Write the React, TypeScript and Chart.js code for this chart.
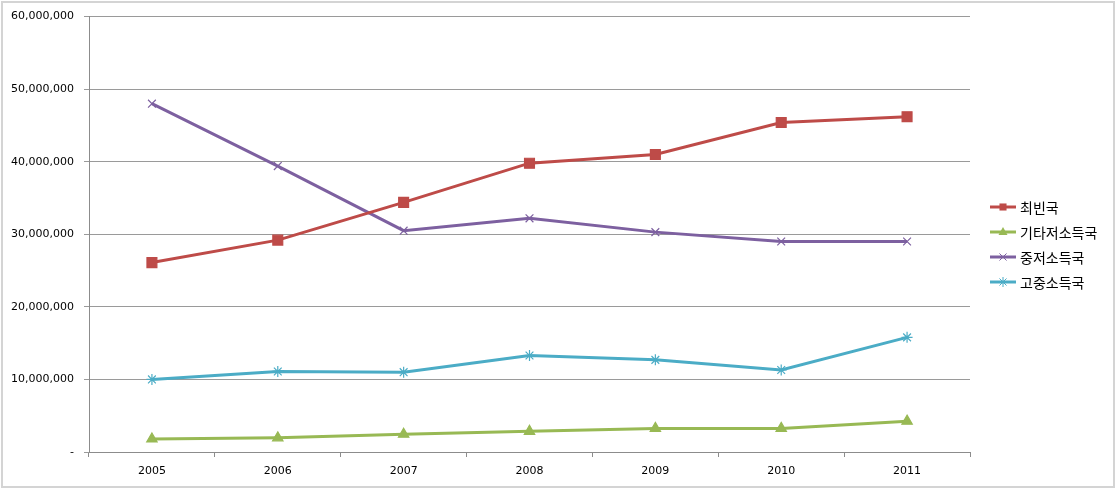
import React, { useEffect, useRef } from 'react';
import { Chart, registerables } from 'chart.js';

Chart.register(...registerables);

const categories = ['2005', '2006', '2007', '2008', '2009', '2010', '2011'];
const seriesLabels = ['최빈국', '기타저소득국', '중저소득국', '고중소득국'];
const leastDeveloped = [26100000, 29200000, 34400000, 39800000, 41000000, 45400000, 46200000];
const otherLowIncome = [1800000, 1950000, 2450000, 2850000, 3250000, 3250000, 4250000];
const lowerMiddleIncome = [48000000, 39400000, 30500000, 32200000, 30300000, 29000000, 29000000];
const upperMiddleIncome = [10000000, 11100000, 11000000, 13300000, 12700000, 11300000, 15800000];
const yMin = 0;
const yMax = 60000000;
const yStep = 10000000;

const colors = ['#BE4B48', '#98B954', '#7D60A0', '#4BACC6'];
const pointStyles = ['rect', 'triangle', 'crossRot', 'star'];
const pointRadii = [7, 6, 5.5, 5.5];

function drawMarker(ctx: CanvasRenderingContext2D, style: string, x: number, y: number, r: number, color: string) {
  ctx.save();
  ctx.fillStyle = color;
  ctx.strokeStyle = color;
  ctx.lineWidth = 1;
  ctx.beginPath();
  if (style === 'rect') {
    const s = r * Math.SQRT1_2;
    ctx.rect(x - s, y - s, 2 * s, 2 * s);
    ctx.fill();
  } else if (style === 'triangle') {
    ctx.moveTo(x, y - r);
    ctx.lineTo(x + r * 0.9, y + r * 0.6);
    ctx.lineTo(x - r * 0.9, y + r * 0.6);
    ctx.closePath();
    ctx.fill();
  } else if (style === 'crossRot') {
    const s = r * Math.SQRT1_2;
    ctx.moveTo(x - s, y - s);
    ctx.lineTo(x + s, y + s);
    ctx.moveTo(x + s, y - s);
    ctx.lineTo(x - s, y + s);
    ctx.stroke();
  } else {
    const s = r * Math.SQRT1_2;
    ctx.moveTo(x - s, y - s);
    ctx.lineTo(x + s, y + s);
    ctx.moveTo(x + s, y - s);
    ctx.lineTo(x - s, y + s);
    ctx.moveTo(x, y - r);
    ctx.lineTo(x, y + r);
    ctx.moveTo(x - r, y);
    ctx.lineTo(x + r, y);
    ctx.stroke();
  }
  ctx.restore();
}

const legendPlugin = {
  id: 'excelLegend',
  afterDraw(chart: any) {
    const ctx: CanvasRenderingContext2D = chart.ctx;
    const startY = 207;
    const gap = 25;
    chart.data.datasets.forEach((ds: any, i: number) => {
      const y = startY + i * gap;
      ctx.save();
      ctx.strokeStyle = ds.borderColor;
      ctx.lineWidth = 3;
      ctx.beginPath();
      ctx.moveTo(990, y);
      ctx.lineTo(1016, y);
      ctx.stroke();
      ctx.restore();
      drawMarker(ctx, pointStyles[i], 1003, y, 5, ds.borderColor);
      ctx.save();
      ctx.fillStyle = '#000';
      ctx.font = '14px "Noto Sans CJK KR", sans-serif';
      ctx.textBaseline = 'middle';
      ctx.textAlign = 'left';
      ctx.fillText(ds.label, 1020, y + 1);
      ctx.restore();
    });
  },
};

export default function App() {
  const canvasRef = useRef<HTMLCanvasElement | null>(null);

  useEffect(() => {
    if (!canvasRef.current) return;
    const seriesData = [leastDeveloped, otherLowIncome, lowerMiddleIncome, upperMiddleIncome];
    const chart = new Chart(canvasRef.current, {
      type: 'line',
      data: {
        labels: categories,
        datasets: seriesData.map((d, i) => ({
          label: seriesLabels[i],
          data: d,
          borderColor: colors[i],
          backgroundColor: colors[i],
          borderWidth: 3,
          pointStyle: pointStyles[i] as any,
          pointRadius: pointRadii[i],
          pointBorderWidth: 1.2,
          pointBorderColor: colors[i],
          pointBackgroundColor: colors[i],
          tension: 0,
          fill: false,
        })),
      },
      options: {
        animation: false,
        responsive: false,
        maintainAspectRatio: false,
        layout: { padding: { left: 0, top: 16, right: 146, bottom: 0 } },
        plugins: {
          legend: { display: false },
          tooltip: { enabled: false },
        },
        scales: {
          x: {
            type: 'category',
            offset: true,
            grid: {
              offset: true,
              drawOnChartArea: false,
              drawTicks: true,
              tickLength: 5,
              color: '#8c8c8c',
            },
            border: { color: '#8c8c8c', width: 1 },
            ticks: {
              color: '#000',
              font: { family: '"DejaVu Sans", sans-serif', size: 11 },
              padding: 8,
              maxRotation: 0,
            },
            afterFit(scale: any) {
              scale.height = 37;
            },
          },
          y: {
            min: yMin,
            max: yMax,
            grid: {
              color: '#9a9a9a',
              lineWidth: 1,
              drawTicks: true,
              tickLength: 5,
            },
            border: { color: '#8c8c8c', width: 1 },
            ticks: {
              stepSize: yStep,
              color: '#000',
              font: { family: '"DejaVu Sans", sans-serif', size: 11 },
              padding: 10,
              callback: (v: any) => (Number(v) === 0 ? '-' : Number(v).toLocaleString('en-US')),
            },
            afterFit(scale: any) {
              scale.width = 89;
            },
          },
        },
      },
      plugins: [legendPlugin],
    });
    return () => chart.destroy();
  }, []);

  return (
    <div style={{ position: 'fixed', left: 0, top: 0, width: 1116, height: 489, background: '#fff' }}>
      <canvas ref={canvasRef} width={1116} height={489} style={{ position: 'absolute', left: 0, top: 0, width: 1116, height: 489 }} />
      <div
        style={{
          position: 'absolute',
          left: 1,
          top: 1,
          width: 1110,
          height: 483,
          border: '2px solid #d4d4d4',
          pointerEvents: 'none',
        }}
      />
    </div>
  );
}
